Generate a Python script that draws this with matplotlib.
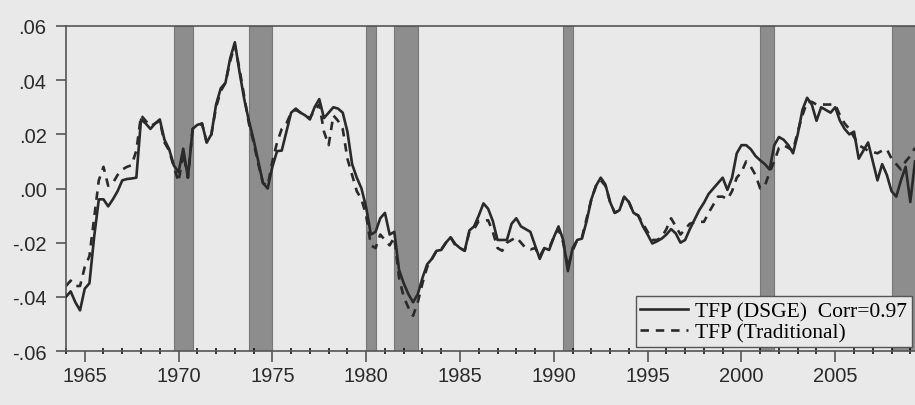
import matplotlib
matplotlib.use("Agg")
import matplotlib.pyplot as plt
from matplotlib.ticker import MultipleLocator, FuncFormatter
import numpy as np

# quarterly data, 1964Q1 .. 2009Q2
start_year = 1964
tfp_dsge = [
    -0.040, -0.038, -0.042, -0.045, -0.037, -0.035, -0.018, -0.004, -0.004, -0.0066,
    -0.004, -0.001, 0.003, 0.0035, 0.0037, 0.004, 0.0255, 0.024, 0.022, 0.024,
    0.0255, 0.018, 0.0145, 0.0085, 0.006, 0.0147, 0.004, 0.022, 0.0235, 0.024,
    0.017, 0.020, 0.031, 0.037, 0.039, 0.048, 0.054, 0.043, 0.033, 0.025,
    0.018, 0.010, 0.002, 0.000, 0.008, 0.0138, 0.014, 0.021, 0.028, 0.0295,
    0.028, 0.027, 0.0255, 0.030, 0.033, 0.026, 0.028, 0.030, 0.0295, 0.028,
    0.021, 0.009, 0.004, 0.000, -0.007, -0.017, -0.016, -0.011, -0.009, -0.017,
    -0.016, -0.030, -0.035, -0.039, -0.042, -0.039, -0.033, -0.028, -0.026, -0.023,
    -0.0227, -0.020, -0.018, -0.0205, -0.022, -0.023, -0.0155, -0.014, -0.010, -0.0055,
    -0.0075, -0.012, -0.019, -0.019, -0.019, -0.013, -0.011, -0.014, -0.015, -0.016,
    -0.021, -0.026, -0.022, -0.0227, -0.018, -0.014, -0.019, -0.0305, -0.022, -0.019,
    -0.0185, -0.012, -0.004, 0.001, 0.004, 0.0015, -0.005, -0.009, -0.008, -0.003,
    -0.005, -0.009, -0.010, -0.014, -0.017, -0.0203, -0.0195, -0.0185, -0.017, -0.015,
    -0.0166, -0.020, -0.019, -0.015, -0.0115, -0.008, -0.0053, -0.002, 0.000, 0.002,
    0.004, -0.0005, 0.004, 0.013, 0.016, 0.016, 0.0145, 0.012, 0.0104, 0.009,
    0.007, 0.016, 0.019, 0.018, 0.016, 0.013, 0.020, 0.029, 0.0335, 0.031,
    0.025, 0.030, 0.029, 0.028, 0.030, 0.025, 0.022, 0.020, 0.021, 0.011,
    0.014, 0.017, 0.010, 0.003, 0.009, 0.005, -0.001, -0.003, 0.003, 0.008,
    -0.005, 0.010,
]
tfp_trad = [
    -0.036, -0.034, -0.036, -0.036, -0.029, -0.025, -0.011, 0.003, 0.008, 0.001,
    0.002, 0.005, 0.007, 0.008, 0.0086, 0.014, 0.027, 0.025, 0.023, 0.024,
    0.025, 0.017, 0.014, 0.008, 0.0025, 0.013, 0.004, 0.022, 0.023, 0.024,
    0.017, 0.020, 0.030, 0.036, 0.039, 0.047, 0.053, 0.044, 0.034, 0.024,
    0.017, 0.009, 0.002, 0.001, 0.010, 0.017, 0.022, 0.024, 0.028, 0.029,
    0.028, 0.027, 0.026, 0.029, 0.031, 0.021, 0.016, 0.027, 0.025, 0.022,
    0.011, 0.005, -0.001, -0.004, -0.010, -0.021, -0.022, -0.017, -0.019, -0.021,
    -0.018, -0.033, -0.040, -0.044, -0.047, -0.042, -0.035, -0.029, -0.026, -0.023,
    -0.0225, -0.020, -0.018, -0.021, -0.022, -0.023, -0.016, -0.015, -0.012, -0.012,
    -0.0117, -0.016, -0.022, -0.023, -0.020, -0.019, -0.018, -0.020, -0.022, -0.0225,
    -0.022, -0.025, -0.022, -0.022, -0.018, -0.015, -0.020, -0.029, -0.023, -0.019,
    -0.018, -0.011, -0.004, 0.001, 0.003, 0.001, -0.005, -0.009, -0.008, -0.003,
    -0.005, -0.009, -0.010, -0.013, -0.016, -0.019, -0.019, -0.018, -0.015, -0.011,
    -0.014, -0.017, -0.015, -0.013, -0.0125, -0.0123, -0.0123, -0.009, -0.006, -0.003,
    -0.003, -0.004, -0.001, 0.004, 0.006, 0.010, 0.008, 0.005, 0.000, 0.001,
    0.006, 0.010, 0.015, 0.016, 0.015, 0.014, 0.021, 0.027, 0.032, 0.032,
    0.031, 0.031, 0.031, 0.031, 0.031, 0.027, 0.024, 0.022, 0.019, 0.016,
    0.015, 0.014, 0.0135, 0.013, 0.014, 0.0145, 0.011, 0.009, 0.007, 0.010,
    0.012, 0.015,
]

# NBER recessions (shaded)
rec_start = [1969.75, 1973.75, 1980.0, 1981.5, 1990.5, 2001.0, 2008.0]
rec_end = [1970.75, 1975.0, 1980.5, 1982.75, 1991.0, 2001.75, 2009.6]

labels = ["TFP (DSGE)  Corr=0.97", "TFP (Traditional)"]

dates = start_year + np.arange(len(tfp_dsge)) / 4.0

BG = "#e9e9e9"
INK = "#2a2a2a"

fig = plt.figure(figsize=(9.15, 4.06), dpi=100, facecolor=BG)
ax = fig.add_axes([0.0721, 0.133, 0.9279, 0.8005], facecolor=BG)

for a, b in zip(rec_start, rec_end):
    ax.axvspan(a, b, facecolor="#8d8d8d", edgecolor="#777777", lw=0.8, zorder=1)

ax.plot(dates, tfp_dsge, color=INK, lw=1.9, zorder=3, label=labels[0])
ax.plot(dates, tfp_trad, color=INK, lw=1.9, ls=(0, (3.2, 2.6)), zorder=2,
        label=labels[1])

ax.set_xlim(1964.0, 2009.25)
ax.set_ylim(-0.06, 0.06)

ax.xaxis.set_major_locator(MultipleLocator(5))
ax.xaxis.set_minor_locator(MultipleLocator(1))
ax.yaxis.set_major_locator(MultipleLocator(0.02))
ax.yaxis.set_major_formatter(FuncFormatter(
    lambda v, p: ("-" if v < -1e-9 else "") + f"{abs(v):.2f}".lstrip("0")))

for lab in ax.get_xticklabels() + ax.get_yticklabels():
    lab.set_fontfamily("Liberation Sans")
    lab.set_fontsize(14.5)
ax.tick_params(axis="both", colors="#555555", labelcolor=INK, width=1.2)
ax.tick_params(axis="x", which="major", length=8, pad=3)
ax.tick_params(axis="x", which="minor", length=4, width=1.1, direction="inout")
ax.tick_params(axis="y", which="major", length=7, pad=7)

for s in ["left", "bottom", "top"]:
    ax.spines[s].set_color("#555555")
    ax.spines[s].set_linewidth(1.2)
ax.spines["right"].set_visible(False)

# legend box runs off the right edge, as in the original
leg = ax.legend(loc="lower left", bbox_to_anchor=(0.671, 0.012),
                prop={"family": "Liberation Serif", "size": 15.5},
                handlelength=2.2, handletextpad=0.35, labelspacing=0.05,
                borderpad=0.22, borderaxespad=0.0, fancybox=False, framealpha=1.0,
                facecolor=BG, edgecolor="#555555")
leg.get_frame().set_linewidth(1.0)
leg.set_zorder(5)

fig.savefig("out.png", dpi=100, facecolor=BG)
